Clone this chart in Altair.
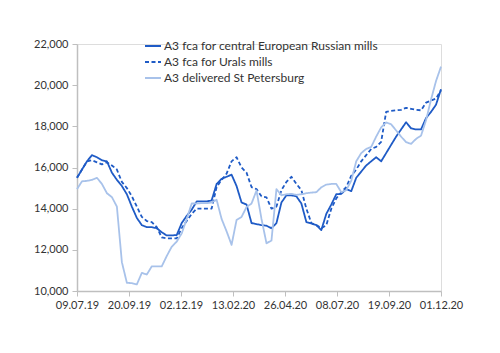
import altair as alt
import pandas as pd

dates = [
    "2019-07-09", "2019-07-16", "2019-07-23", "2019-07-30", "2019-08-06", "2019-08-13",
    "2019-08-20", "2019-08-27", "2019-09-03", "2019-09-10", "2019-09-17", "2019-09-24",
    "2019-10-01", "2019-10-08", "2019-10-15", "2019-10-22", "2019-10-29", "2019-11-05",
    "2019-11-12", "2019-11-19", "2019-11-26", "2019-12-03", "2019-12-10", "2019-12-17",
    "2019-12-24", "2019-12-31", "2020-01-07", "2020-01-14", "2020-01-21", "2020-01-28",
    "2020-02-04", "2020-02-11", "2020-02-18", "2020-02-25", "2020-03-03", "2020-03-10",
    "2020-03-17", "2020-03-24", "2020-03-31", "2020-04-07", "2020-04-14", "2020-04-21",
    "2020-04-28", "2020-05-05", "2020-05-12", "2020-05-19", "2020-05-26", "2020-06-02",
    "2020-06-09", "2020-06-16", "2020-06-23", "2020-06-30", "2020-07-07", "2020-07-14",
    "2020-07-21", "2020-07-28", "2020-08-04", "2020-08-11", "2020-08-18", "2020-08-25",
    "2020-09-01", "2020-09-08", "2020-09-15", "2020-09-22", "2020-09-29", "2020-10-06",
    "2020-10-13", "2020-10-20", "2020-10-27", "2020-11-03", "2020-11-10", "2020-11-17",
    "2020-11-24", "2020-12-01",
]

central = [
    15500, 15900, 16300, 16600, 16500, 16350, 16300, 15750, 15400, 15100,
    14700, 14100, 13550, 13200, 13100, 13100, 13050, 12850, 12700, 12700,
    12720, 13300, 13650, 13950, 14350, 14350, 14350, 14400, 15200, 15450,
    15550, 15650, 15100, 14300, 14200, 13300, 13250, 13200, 13170, 13050,
    13300, 14300, 14650, 14650, 14600, 14250, 13350, 13280, 13200, 12960,
    13750, 14200, 14700, 14720, 14950, 14850, 15500, 15800, 16100, 16300,
    16500, 16300, 16700, 17100, 17500, 17850, 18200, 17900, 17850, 17850,
    18400, 18700, 19050, 19800,
]

urals = [
    15500, 15900, 16300, 16350, 16250, 16150, 16250, 16100, 15900, 15300,
    15000, 14600, 14100, 13600, 13400, 13350, 13100, 12600, 12560, 12560,
    12560, 13050, 13400, 13750, 14000, 14000, 14000, 14000, 15050, 15400,
    15700, 16300, 16500, 16000, 15750, 15050, 14950, 14600, 14550, 14000,
    14100, 14900, 15300, 15550, 15200, 14900, 14000, 13300, 13200, 13050,
    13200, 14000, 14500, 14800, 15050, 15600, 15900, 16300, 16600, 16900,
    17000, 17250, 18700, 18750, 18780, 18800, 18900, 18850, 18800, 18780,
    19150, 19250, 19350, 19750,
]

stpete = [
    14950, 15330, 15350, 15400, 15500, 15200, 14750, 14560, 14100, 11400,
    10400, 10380, 10320, 10880, 10800, 11200, 11200, 11200, 11700, 12150,
    12400, 12800, 13500, 14250, 14250, 14270, 14270, 14300, 14430, 13500,
    12900, 12240, 13450, 13600, 14080, 14250, 14880, 13500, 12320, 12450,
    14950, 14650, 14700, 14720, 14670, 14700, 14750, 14780, 14800, 15040,
    15170, 15200, 15200, 14800, 14900, 15360, 16300, 16700, 16900, 17000,
    17500, 17950, 18190, 18100, 17800, 17500, 17230, 17150, 17390, 17550,
    18300, 19300, 20200, 20900,
]

series_names = [
    "A3 fca for central European Russian mills",
    "A3 fca for Urals mills",
    "A3 delivered St Petersburg",
]
series_colors = ["#1F5BC6", "#1F5BC6", "#A8C2EA"]
series_dash = [[1, 0], [4, 2.5], [1, 0]]
series_width = [1.8, 1.8, 1.6]

tick_dates = [
    (2019, 7, 9), (2019, 9, 20), (2019, 12, 2), (2020, 2, 13),
    (2020, 4, 26), (2020, 7, 8), (2020, 9, 19), (2020, 12, 1),
]
y_ticks = [10000, 12000, 14000, 16000, 18000, 20000, 22000]

rows = []
for name, vals in zip(series_names, [central, urals, stpete]):
    for d, v in zip(dates, vals):
        rows.append({"date": d, "price": v, "series": name})
df = pd.DataFrame(rows)

tick_vals = [alt.DateTime(year=y, month=m, date=d, utc=True) for (y, m, d) in tick_dates]

font = "Lato"

x_label = (
    "(utcdate(datum.value) < 10 ? '0' : '') + utcdate(datum.value) + '.' + "
    "(utcmonth(datum.value) < 9 ? '0' : '') + (utcmonth(datum.value) + 1) + '.' + "
    "(utcyear(datum.value) % 100)"
)
y_label = "floor(datum.value / 1000) + ',000'"

chart = alt.Chart(df).mark_line(strokeJoin="round").encode(
    x=alt.X(
        "date:T",
        scale=alt.Scale(type="utc", domain=[tick_vals[0], tick_vals[-1]], nice=False),
        axis=alt.Axis(
            values=tick_vals, labelExpr=x_label, title=None,
            grid=False, domainColor="#BFBFBF", domainWidth=1.5, tickColor="#BFBFBF",
            tickSize=5, labelPadding=3, labelFontSize=11, labelColor="#333333",
            labelFont=font, labelOverlap=False, labelAlign="center", labelFlush=False,
        ),
    ),
    y=alt.Y(
        "price:Q",
        scale=alt.Scale(domain=[10000, 22000], nice=False, zero=False),
        axis=alt.Axis(
            values=y_ticks, labelExpr=y_label,
            title=None, grid=False, domainColor="#BFBFBF", domainWidth=1.5,
            tickColor="#BFBFBF", tickSize=5, labelPadding=4, labelFontSize=11,
            labelColor="#333333", labelFont=font,
        ),
    ),
    color=alt.Color(
        "series:N",
        scale=alt.Scale(domain=series_names, range=series_colors),
        legend=alt.Legend(
            title=None, orient="none", legendX=67, legendY=-7, symbolType="stroke",
            symbolSize=256, symbolStrokeWidth=2, labelFontSize=12, labelFont=font,
            labelColor="#333333", rowPadding=1, labelOffset=2, padding=0,
            labelLimit=400,
        ),
    ),
    strokeDash=alt.StrokeDash(
        "series:N", scale=alt.Scale(domain=series_names, range=series_dash), legend=None
    ),
    strokeWidth=alt.StrokeWidth(
        "series:N", scale=alt.Scale(domain=series_names, range=series_width), legend=None
    ),
    order=alt.Order("date:T"),
).properties(
    width=364,
    height=247,
    autosize=alt.AutoSizeParams(type="none"),
    padding={"left": 77, "top": 44, "right": 59, "bottom": 62},
).configure_view(stroke=None).configure(background="white")

chart.save("out.html", embed_options={"renderer": "svg", "actions": False})
